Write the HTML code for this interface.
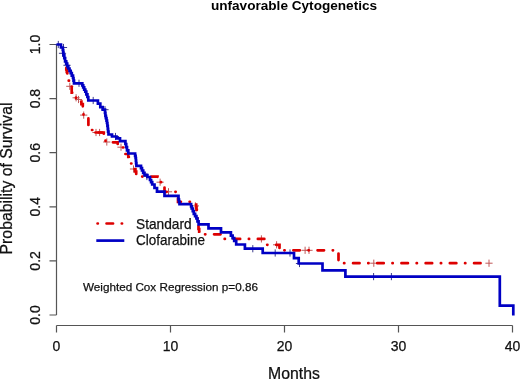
<!DOCTYPE html>
<html><head><meta charset="utf-8"><style>
html,body{margin:0;padding:0;background:#fff;}
svg{display:block;will-change:transform;}
text{font-family:"Liberation Sans",sans-serif;fill:#111;stroke:#111;stroke-width:0.25px;}
.tk{font-size:14px;}
.lab{font-size:15.8px;}
.leg{font-size:14.6px;}
.title{font-size:13.6px;font-weight:bold;fill:#000;stroke-width:0;}
.cox{font-size:11.7px;}
</style></head><body>
<svg width="520" height="379" viewBox="0 0 520 379">
<rect width="520" height="379" fill="#fff"/>
<text x="294" y="9.5" text-anchor="middle" class="title">unfavorable Cytogenetics</text>
<path d="M56.5 44.5V315M49.5 44.5H56.5M49.5 98.6H56.5M49.5 152.7H56.5M49.5 206.8H56.5M49.5 260.9H56.5M49.5 315.0H56.5" stroke="#555" stroke-width="1.2" fill="none"/>
<path d="M56.5 325.5H512.5M56.5 325.5V332.5M170.5 325.5V332.5M284.5 325.5V332.5M398.5 325.5V332.5M512.5 325.5V332.5" stroke="#555" stroke-width="1.2" fill="none"/>
<text transform="translate(40,44.5) rotate(-90)" text-anchor="middle" class="tk">1.0</text>
<text transform="translate(40,98.6) rotate(-90)" text-anchor="middle" class="tk">0.8</text>
<text transform="translate(40,152.7) rotate(-90)" text-anchor="middle" class="tk">0.6</text>
<text transform="translate(40,206.8) rotate(-90)" text-anchor="middle" class="tk">0.4</text>
<text transform="translate(40,260.9) rotate(-90)" text-anchor="middle" class="tk">0.2</text>
<text transform="translate(40,315.0) rotate(-90)" text-anchor="middle" class="tk">0.0</text>
<text x="56.5" y="351" text-anchor="middle" class="tk">0</text>
<text x="170.5" y="351" text-anchor="middle" class="tk">10</text>
<text x="284.5" y="351" text-anchor="middle" class="tk">20</text>
<text x="398.5" y="351" text-anchor="middle" class="tk">30</text>
<text x="512.5" y="351" text-anchor="middle" class="tk">40</text>
<text x="294" y="379.3" text-anchor="middle" class="lab">Months</text>
<text transform="translate(11.8,178.5) rotate(-90)" text-anchor="middle" class="lab">Probability of Survival</text>
<path d="M66.2 86.3h7.2M69.8 82.7v7.2M72.5 97.8h7.2M76.1 94.2v7.2M74.9 99.5h7.2M78.5 95.9v7.2M80.1 115.1h7.2M83.7 111.5v7.2M92.4 132.5h7.2M96.0 128.9v7.2M96.0 132.5h7.2M99.6 128.9v7.2M103.2 142.0h7.2M106.8 138.4v7.2M117.4 147.2h7.2M121.0 143.6v7.2M129.9 169.0h7.2M133.5 165.4v7.2M156.5 182.2h7.2M160.1 178.6v7.2M164.9 191.8h7.2M168.5 188.2v7.2M191.8 205.9h7.2M195.4 202.3v7.2M257.8 238.9h7.2M261.4 235.3v7.2M273.0 244.8h7.2M276.6 241.2v7.2M301.5 250.3h7.2M305.1 246.7v7.2M305.4 250.3h7.2M309.0 246.7v7.2M370.2 263.2h7.2M373.8 259.6v7.2M485.4 263.2h7.2M489.0 259.6v7.2" fill="none" stroke="#c05858" stroke-width="1"/>
<path d="M65.1 61.3H65.5V64.0H65.9V66.6H66.3V69.3H66.8V71.9H67.3V74.5H67.9V77.6H68.5V80.7H69.2V83.1H70.0V85.5H71.7V92.7H73.5V95.5H76.0V98.0H79.0H80.0V101.5H81.4V104.2H82.8V106.9H83.0V109.8H83.3V112.6H83.5V115.5H88.4V126.0H91.7V130.0H93.0V132.5H103.8V136.5H104.7V139.4H105.5V142.3H112.5H117.7V144.4H120.5H121.5V147.5H123.2V150.8H125.0V154.0H128.3V157.0H129.2V160.2H130.2V163.5H132.3V166.2H134.5V169.0H135.3V171.5H136.2V174.1H137.0V176.6H157.5V182.2H161.0H162.2V184.6H163.3V187.1H164.5V189.5V191.8H178.0V201.8H195.5H195.8V204.5H196.2V207.3H196.5V210.0H196.8V212.5H197.0V215.0H197.2V217.5H197.5V220.0H197.8V223.0H198.2V226.0H198.5V229.0H199.2V231.7H200.0V234.3" fill="none" stroke="#dd0000" stroke-width="2.7" stroke-dasharray="0.3 8.7 6.5 8.7" stroke-dashoffset="1.20" stroke-linecap="round"/>
<path d="M200.0 234.3H222.0V238.9H265.5V244.8H279.5V250.3" fill="none" stroke="#dd0000" stroke-width="2.7" stroke-dasharray="0.3 8.7 6.5 8.7" stroke-dashoffset="19.15" stroke-linecap="round"/>
<path d="M279.5 250.3H338.5V263.2H489.0" fill="none" stroke="#dd0000" stroke-width="2.7" stroke-dasharray="0.3 8.7 6.5 8.7" stroke-dashoffset="19.35" stroke-linecap="round"/>
<path d="M95.5 132.5H102.5" fill="none" stroke="#dd0000" stroke-width="2.7" stroke-linecap="round"/>
<path d="M54.7 44.5h7.2M58.3 40.9v7.2M59.9 47.5h7.2M63.5 43.9v7.2M58.9 53.3h7.2M62.5 49.7v7.2M63.4 65.3h7.2M67.0 61.7v7.2M75.4 83.3h7.2M79.0 79.7v7.2M89.6 100.5h7.2M93.2 96.9v7.2M101.4 109.7h7.2M105.0 106.1v7.2M111.9 136.5h7.2M115.5 132.9v7.2M143.3 176.5h7.2M146.9 172.9v7.2M249.2 248.7h7.2M252.8 245.1v7.2M271.6 253.0h7.2M275.2 249.4v7.2M286.4 253.0h7.2M290.0 249.4v7.2M295.9 263.5h7.2M299.5 259.9v7.2M370.0 276.6h7.2M373.6 273.0v7.2M387.8 276.6h7.2M391.4 273.0v7.2" fill="none" stroke="#3c3c8c" stroke-width="1"/>
<path d="M56.5 44.5H61.0V47.5H62.5H62.8V50.0H63.2V52.5H63.5V55.0H64.3V58.1H65.1V61.3H66.2V63.7H67.2V66.1H68.3V68.5H69.5V70.8H70.7V73.2H71.8V75.6H73.0V78.0H73.5V80.7H74.0V83.3H81.5H82.3V85.3H83.2V87.4H84.2V89.6H85.3V91.7H86.3V94.3H87.4V97.0H88.3V100.5H96.5H97.9V103.6H100.3V107.1H102.7V109.7H104.5H105.0V112.8H105.4V115.8H105.9V118.2H106.5V120.6H107.0V123.0H107.4V125.9H107.8V128.8H108.1V131.6H108.5V134.5H112.0V136.5H116.5V138.3H120.0V141.2H124.5H125.4V144.0H126.2V147.2H127.0V150.3H128.3V153.5H134.5H135.1V155.8H135.6V158.0H135.9V160.6H136.1V163.2H136.4V165.8H140.0H141.0V168.2H142.0V170.5H143.2V172.8H144.5V175.0H147.4V177.0H150.0V180.0H151.1V182.2H152.2V184.5H154.5V188.0H157.0V191.6H164.5V195.8H177.5H178.5V199.5H179.0V201.8H179.5V204.2H190.6H191.1V206.3H191.7V208.5H192.8V211.2H193.8V213.8H195.1V216.2H196.4V218.5H197.5V221.4H198.6V224.4H208.5V228.4H221.0V232.3H229.6H230.9V235.6H232.6V238.2H234.2V240.9H236.2V244.5H244.9V248.7H262.7V253.0H294.0V258.2H298.7V263.5H322.5V270.4H345.4V276.6H499.8V305.6H513.3V315.5" fill="none" stroke="#0000c4" stroke-width="2.7" stroke-linejoin="miter" stroke-linecap="butt"/>
<path d="M97.55 223.5H122.2" stroke="#dd0000" stroke-width="2.7" stroke-dasharray="0.3 8.7 6.5 8.7" stroke-linecap="round" fill="none"/>
<path d="M96.3 240.6H124.3" stroke="#0000c4" stroke-width="2.7" fill="none"/>
<text x="136" y="228.6" class="leg" textLength="55.6" lengthAdjust="spacingAndGlyphs">Standard</text>
<text x="136" y="245.1" class="leg" textLength="69.0" lengthAdjust="spacingAndGlyphs">Clofarabine</text>
<text x="83" y="291" class="cox">Weighted Cox Regression p=0.86</text>
</svg>
</body></html>
